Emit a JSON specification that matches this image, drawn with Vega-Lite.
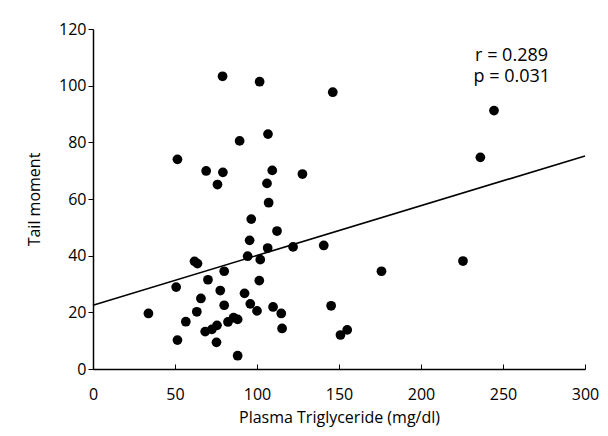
{
  "$schema": "https://vega.github.io/schema/vega-lite/v6.json",
  "width": 492,
  "height": 340,
  "autosize": {"type": "none"},
  "padding": {"left": 93, "top": 29, "right": 23, "bottom": 67},
  "background": "white",
  "config": {
    "view": {"stroke": null},
    "font": "Open Sans"
  },
  "datasets": {
    "points": [
      {"tg": 79, "tail": 103.3}, {"tg": 101.6, "tail": 101.4}, {"tg": 146.2, "tail": 97.7},
      {"tg": 89.4, "tail": 80.5}, {"tg": 106.7, "tail": 82.9}, {"tg": 51.5, "tail": 74.0},
      {"tg": 69.0, "tail": 69.9}, {"tg": 79.2, "tail": 69.4}, {"tg": 109.3, "tail": 70.1},
      {"tg": 127.7, "tail": 68.8}, {"tg": 75.9, "tail": 65.1}, {"tg": 106.1, "tail": 65.5},
      {"tg": 107.1, "tail": 58.7}, {"tg": 244.5, "tail": 91.2}, {"tg": 236.2, "tail": 74.7},
      {"tg": 96.5, "tail": 52.9}, {"tg": 112.2, "tail": 48.7}, {"tg": 95.5, "tail": 45.4},
      {"tg": 106.5, "tail": 42.7}, {"tg": 122, "tail": 43.1}, {"tg": 140.7, "tail": 43.6},
      {"tg": 61.9, "tail": 38.0}, {"tg": 63.7, "tail": 37.2}, {"tg": 94.3, "tail": 39.8},
      {"tg": 102, "tail": 38.6}, {"tg": 80, "tail": 34.5}, {"tg": 70.1, "tail": 31.5},
      {"tg": 101.4, "tail": 31.2}, {"tg": 50.7, "tail": 28.9}, {"tg": 77.6, "tail": 27.7},
      {"tg": 92.4, "tail": 26.7}, {"tg": 65.8, "tail": 24.9}, {"tg": 95.9, "tail": 23.0},
      {"tg": 80, "tail": 22.5}, {"tg": 109.8, "tail": 21.9}, {"tg": 100, "tail": 20.5},
      {"tg": 114.8, "tail": 19.6}, {"tg": 33.8, "tail": 19.6}, {"tg": 63.3, "tail": 20.2},
      {"tg": 145.2, "tail": 22.3}, {"tg": 56.6, "tail": 16.7}, {"tg": 85.7, "tail": 18.1},
      {"tg": 88.2, "tail": 17.5}, {"tg": 82.3, "tail": 16.6}, {"tg": 75.6, "tail": 15.4},
      {"tg": 72.5, "tail": 14.0}, {"tg": 68.4, "tail": 13.2}, {"tg": 115.3, "tail": 14.3},
      {"tg": 51.5, "tail": 10.2}, {"tg": 75.3, "tail": 9.4}, {"tg": 88.2, "tail": 4.7},
      {"tg": 150.9, "tail": 12.0}, {"tg": 155, "tail": 13.8}, {"tg": 175.9, "tail": 34.5},
      {"tg": 225.6, "tail": 38.1}
    ],
    "fit": [{"tg": 0, "tail": 22.5}, {"tg": 300, "tail": 75.2}],
    "notes": [
      {"tg": 233, "tail": 110.6, "label": "r = 0.289"},
      {"tg": 232, "tail": 103.0, "label": "p = 0.031"}
    ]
  },
  "layer": [
    {
      "data": {"name": "points"},
      "mark": {"type": "circle", "size": 95, "color": "black", "opacity": 1},
      "encoding": {
        "x": {
          "field": "tg", "type": "quantitative",
          "scale": {"domain": [0, 300], "nice": false},
          "axis": {
            "title": "Plasma Triglyceride (mg/dl)",
            "values": [0, 50, 100, 150, 200, 250, 300],
            "grid": false, "domainColor": "black", "domainWidth": 1.5,
            "tickColor": "black", "tickSize": -5, "tickWidth": 1,
            "labelFont": "Open Sans", "labelFontSize": 16, "labelColor": "black",
            "labelPadding": 22, "labelFlush": false,
            "titleFont": "Open Sans", "titleFontSize": 16, "titleFontWeight": "normal",
            "titleColor": "black", "titlePadding": 7
          }
        },
        "y": {
          "field": "tail", "type": "quantitative",
          "scale": {"domain": [0, 120], "nice": false},
          "axis": {
            "title": "Tail moment",
            "values": [0, 20, 40, 60, 80, 100, 120],
            "grid": false, "domainColor": "black", "domainWidth": 1.5,
            "tickColor": "black", "tickSize": 5, "tickWidth": 1,
            "labelFont": "Open Sans", "labelFontSize": 16, "labelColor": "black",
            "labelPadding": 2, "labelFlush": false,
            "titleFont": "Open Sans", "titleFontSize": 16, "titleFontWeight": "normal",
            "titleColor": "black", "titlePadding": 16
          }
        }
      }
    },
    {
      "data": {"name": "fit"},
      "mark": {"type": "line", "color": "black", "strokeWidth": 1.6},
      "encoding": {
        "x": {"field": "tg", "type": "quantitative"},
        "y": {"field": "tail", "type": "quantitative"}
      }
    },
    {
      "data": {"name": "notes"},
      "mark": {"type": "text", "align": "left", "baseline": "middle", "font": "Open Sans", "fontSize": 18, "color": "black"},
      "encoding": {
        "x": {"field": "tg", "type": "quantitative"},
        "y": {"field": "tail", "type": "quantitative"},
        "text": {"field": "label"}
      }
    }
  ]
}
